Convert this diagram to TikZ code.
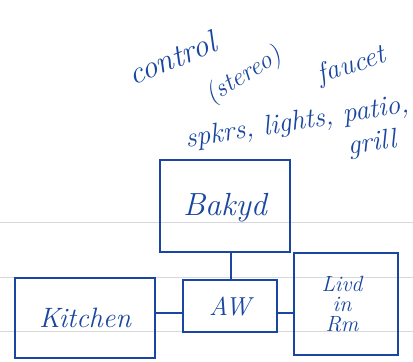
\documentclass[tikz,border=0pt]{standalone}
\usepackage{fontspec}
\setmainfont{Latin Modern Roman}
\definecolor{ink}{RGB}{25,70,160}
\definecolor{rule}{RGB}{215,215,220}
\tikzset{
  room/.style={draw=ink, line width=1.4pt, inner sep=0pt},
  link/.style={draw=ink, line width=1.4pt},
  hand/.style={text=ink, font=\itshape, inner sep=0pt},
  ruling/.style={draw=rule, line width=0.6pt}
}
\begin{document}
\begin{tikzpicture}[x=1pt,y=-1pt]
\useasboundingbox (0,0) rectangle (413,362);
\fill[white] (0,0) rectangle (413,362);
% notebook rulings
\draw[ruling] (0,222) -- (413,222);
\draw[ruling] (0,277) -- (413,277);
\draw[ruling] (0,331) -- (413,331);
% boxes
\node[room, minimum width=130pt, minimum height=92pt] (bak) at (225,206) {};
\node[hand, font=\itshape\fontsize{32}{32}\selectfont] at (225,208) {Bakyd};
\node[room, minimum width=140pt, minimum height=80pt] (kit) at (85,318) {};
\node[hand, font=\itshape\fontsize{28}{28}\selectfont] at (85,318) {Kitchen};
\node[room, minimum width=94pt, minimum height=52pt] (aw) at (230,306) {};
\node[hand, font=\itshape\fontsize{26}{26}\selectfont] at (230,306) {AW};
\node[room, minimum width=104pt, minimum height=102pt] (liv) at (346,304) {};
\node[hand, font=\itshape\fontsize{22}{20}\selectfont, align=center] at (342,304) {Livd\\in\\Rm};
% connectors
\coordinate (tap) at (231,0);
\draw[link] (bak.south -| tap) -- (aw.north -| tap);
\draw[link] (kit.east |- 0,313) -- (aw.west |- 0,313);
\draw[link] (aw.east |- 0,313) -- (liv.west |- 0,313);
% notes
\node[hand, font=\itshape\fontsize{32}{32}\selectfont, rotate=22] (n1) at (172,58) {control};
\node[hand, font=\itshape\fontsize{26}{26}\selectfont, rotate=32] (n2) at (244,76) {(stereo)};
\node[hand, font=\itshape\fontsize{28}{28}\selectfont, rotate=18] (n3) at (352,66) {faucet};
\node[hand, font=\itshape\fontsize{28}{28}\selectfont, rotate=9] (n4) at (297,123) {spkrs, lights, patio,};
\node[hand, font=\itshape\fontsize{28}{28}\selectfont, rotate=8] (n5) at (372,144) {grill};
\end{tikzpicture}
\end{document}
